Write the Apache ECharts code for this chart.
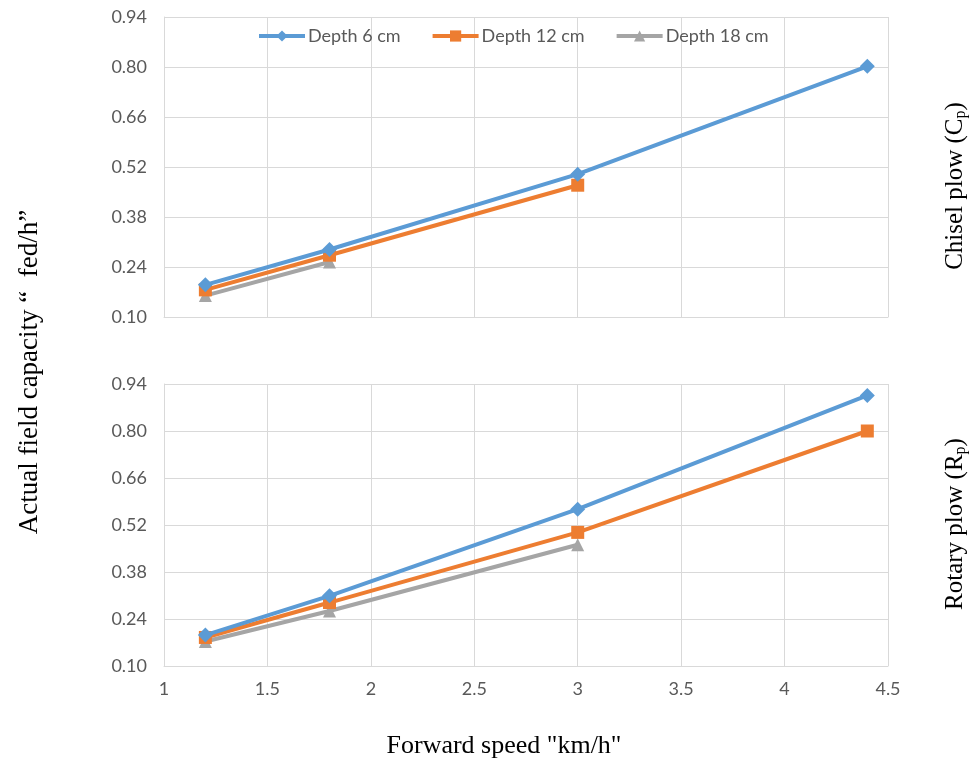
<!DOCTYPE html>
<html><head><meta charset="utf-8">
<script src="https://cdn.jsdelivr.net/npm/echarts@6/dist/echarts.min.js"></script>
<style>html,body{margin:0;padding:0;background:#fff}#c{width:970px;height:762px}</style>
</head><body><div id="c"></div>
<script>
const speeds = [1.2, 1.8, 3, 4.4];
const seriesNames = ['Depth 6 cm', 'Depth 12 cm', 'Depth 18 cm'];
// Chisel plow (top)
const chisel6 = [0.190, 0.289, 0.500, 0.802];
const chisel12 = [0.176, 0.273, 0.469, null];
const chisel18 = [0.160, 0.254, null, null];
// Rotary plow (bottom)
const rotary6 = [0.192, 0.309, 0.567, 0.906];
const rotary12 = [0.185, 0.289, 0.498, 0.800];
const rotary18 = [0.173, 0.264, 0.461, null];
const xTicks = [1, 1.5, 2, 2.5, 3, 3.5, 4, 4.5];
const yTicks = [0.10, 0.24, 0.38, 0.52, 0.66, 0.80, 0.94];

const colors = ['#5b9bd5', '#ed7d31', '#a5a5a5'];
const symbols = ['diamond', 'rect', 'triangle'];
const symSizes = [15, 13, 13];
const gridColor = '#d9d9d9';
const labelFont = {color: '#595959', fontSize: 18, fontFamily: 'Lato'};
const serif = '"Liberation Serif"';

function pairs(ys) { return speeds.map((x, i) => [x, ys[i]]).filter(p => p[1] !== null); }

function xAxis(idx, showLabels) {
  return {
    type: 'value', gridIndex: idx, min: xTicks[0], max: xTicks[xTicks.length - 1], interval: 0.5,
    axisLine: {show: true, lineStyle: {color: gridColor, width: 1}},
    axisTick: {show: false},
    splitLine: {show: true, lineStyle: {color: gridColor, width: 1}},
    axisLabel: Object.assign({show: showLabels, margin: 14, formatter: v => String(v)}, labelFont)
  };
}
function yAxis(idx) {
  return {
    type: 'value', gridIndex: idx, min: yTicks[0], max: yTicks[yTicks.length - 1], interval: 0.14,
    axisLine: {show: true, lineStyle: {color: gridColor, width: 1}},
    axisTick: {show: false},
    splitLine: {show: true, lineStyle: {color: gridColor, width: 1}},
    axisLabel: Object.assign({margin: 17, formatter: v => v.toFixed(2)}, labelFont)
  };
}
function lineSeries(name, data, k, idx) {
  return {
    name: name, type: 'line', xAxisIndex: idx, yAxisIndex: idx, data: pairs(data),
    symbol: symbols[k], symbolSize: symSizes[k], showSymbol: true,
    lineStyle: {color: colors[k], width: 4},
    itemStyle: {color: colors[k]},
    emphasis: {disabled: true}, animation: false, z: 3 - k
  };
}

const subRich = {
  a: {fontSize: 25, fontFamily: 'Liberation Serif', color: '#000', lineHeight: 30},
  b: {fontSize: 16, fontFamily: 'Liberation Serif', color: '#000', lineHeight: 30, padding: [12, 0, 0, 0]}
};

const chart = echarts.init(document.getElementById('c'));
chart.setOption({
  animation: false,
  grid: [
    {left: 164, right: 82, top: 17, height: 300},
    {left: 164, right: 82, top: 384, height: 282}
  ],
  xAxis: [xAxis(0, false), xAxis(1, true)],
  yAxis: [yAxis(0), yAxis(1)],
  legend: {
    top: 22, left: 252, itemGap: 30, itemWidth: 46, itemHeight: 14,
    data: seriesNames,
    lineStyle: {width: 4},
    textStyle: {color: '#595959', fontSize: 18, fontFamily: 'Lato', padding: [0, 0, 0, -2]}
  },
  series: [
    lineSeries(seriesNames[0], chisel6, 0, 0),
    lineSeries(seriesNames[1], chisel12, 1, 0),
    lineSeries(seriesNames[2], chisel18, 2, 0),
    lineSeries(seriesNames[0], rotary6, 0, 1),
    lineSeries(seriesNames[1], rotary12, 1, 1),
    lineSeries(seriesNames[2], rotary18, 2, 1)
  ],
  graphic: [
    {type: 'text', x: 30, y: 372, rotation: Math.PI / 2,
     style: {text: 'Actual field capacity \u201c  fed/h\u201d', fill: '#000', font: '27px ' + serif, align: 'center', verticalAlign: 'middle'}},
    {type: 'text', x: 504, y: 746,
     style: {text: 'Forward speed "km/h"', fill: '#000', font: '26px ' + serif, align: 'center', verticalAlign: 'middle'}},
    {type: 'text', x: 955, y: 186, rotation: Math.PI / 2,
     style: {text: '{a|Chisel plow (C}{b|p}{a|)}', align: 'center', verticalAlign: 'middle', rich: subRich}},
    {type: 'text', x: 955, y: 524, rotation: Math.PI / 2,
     style: {text: '{a|Rotary plow (R}{b|p}{a|)}', align: 'center', verticalAlign: 'middle', rich: subRich}}
  ]
});
</script>
</body></html>
